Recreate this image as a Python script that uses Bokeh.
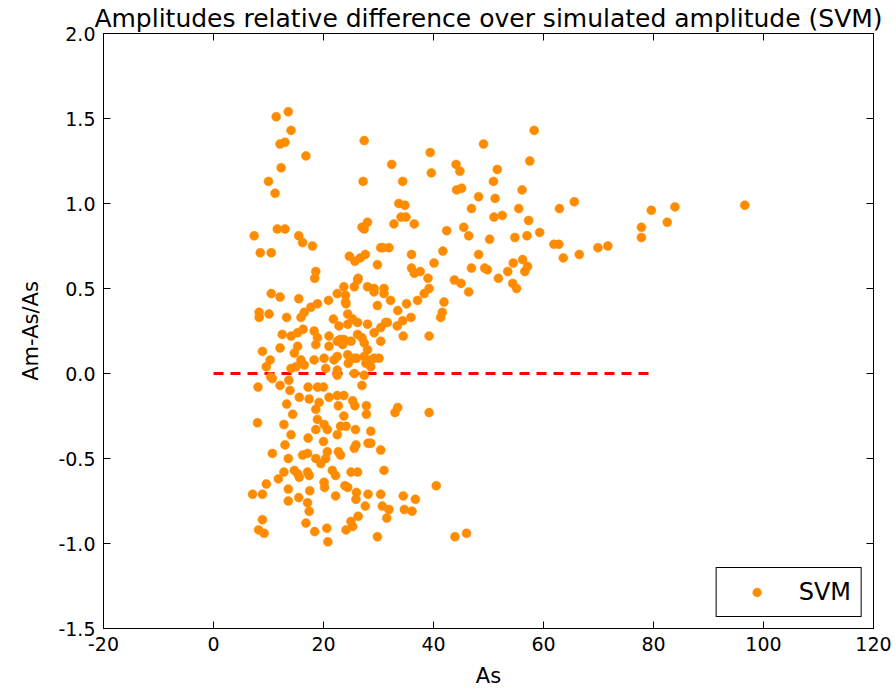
from bokeh.plotting import figure
from bokeh.models import FixedTicker, PrintfTickFormatter, CustomJSTickFormatter, LinearAxis, Range1d, Legend, LegendItem
from bokeh.embed import file_html
from bokeh.resources import INLINE

title_text = "Amplitudes relative difference over simulated amplitude (SVM)"
x_label = "As"
y_label = "Am-As/As"
series_name = "SVM"
x_ticks = [-20, 0, 20, 40, 60, 80, 100, 120]
y_ticks = [-1.5, -1.0, -0.5, 0.0, 0.5, 1.0, 1.5, 2.0]
ref_x = [0, 80]
ref_y = [0, 0]

pts = [
    (11.4, 1.51), (13.6, 1.54), (14.1, 1.43), (12.1, 1.35), (13.0, 1.36), (16.8, 1.28), (12.3, 1.21),
    (10.0, 1.13), (11.2, 1.06), (27.4, 1.37), (27.2, 1.13), (28.0, 0.89), (27.0, 0.86), (27.4, 0.85),
    (7.4, 0.81), (11.6, 0.85), (13.0, 0.85), (15.5, 0.81), (16.2, 0.77), (18.0, 0.75), (8.5, 0.71),
    (10.5, 0.71), (30.4, 0.74), (24.7, 0.69), (25.7, 0.66), (26.7, 0.68), (27.6, 0.70), (29.8, 0.64),
    (18.6, 0.60), (18.4, 0.56), (26.3, 0.56), (23.7, 0.51), (25.6, 0.51), (28.0, 0.51), (29.2, 0.50),
    (10.5, 0.47), (12.1, 0.45), (15.5, 0.44), (8.3, 0.36), (8.3, 0.33), (10.1, 0.35), (13.3, 0.33),
    (15.9, 0.33), (16.5, 0.36), (17.7, 0.39), (18.9, 0.41), (20.9, 0.43), (22.5, 0.47), (24.1, 0.41),
    (29.2, 0.48), (21.8, 0.32), (24.4, 0.35), (25.3, 0.32), (26.2, 0.30), (22.8, 0.28), (24.4, 0.29),
    (12.5, 0.23), (14.1, 0.22), (15.3, 0.24), (16.3, 0.26), (18.3, 0.25), (18.9, 0.21), (18.6, 0.17),
    (21.0, 0.22), (21.0, 0.16), (22.5, 0.19), (23.5, 0.17), (23.7, 0.20), (26.2, 0.23), (27.4, 0.18),
    (28.0, 0.14), (12.1, 0.15), (8.9, 0.13), (10.3, 0.08), (9.6, 0.04), (15.3, 0.16), (14.7, 0.12),
    (15.9, 0.08), (16.5, 0.05), (18.3, 0.08), (20.1, 0.09), (21.9, 0.08), (24.4, 0.11), (25.6, 0.09),
    (27.4, 0.10), (28.6, 0.08), (28.6, 0.04), (20.4, 0.03), (22.5, 0.02), (14.1, 0.03), (15.0, 0.04),
    (10.4, -0.02), (10.7, -0.03), (13.7, -0.04), (25.6, 0.00), (27.4, -0.01), (22.5, -0.01),
    (8.1, -0.08), (12.1, -0.07), (13.9, -0.10), (17.2, -0.08), (18.9, -0.08), (20.0, -0.08), (27.0, -0.07),
    (15.6, -0.14), (17.4, -0.15), (19.2, -0.17), (18.6, -0.21), (21.0, -0.14), (22.5, -0.13), (23.7, -0.13),
    (25.3, -0.16), (25.7, -0.19), (22.7, -0.19), (23.7, -0.25), (27.8, -0.19), (27.8, -0.24), (13.3, -0.18),
    (14.4, -0.24), (8.0, -0.29), (12.8, -0.30), (14.1, -0.36), (13.0, -0.42), (10.7, -0.47), (18.9, -0.27),
    (18.6, -0.33), (20.1, -0.30), (20.7, -0.33), (23.1, -0.31), (24.1, -0.31), (22.5, -0.36), (25.8, -0.33),
    (28.6, -0.34), (28.1, -0.41), (17.2, -0.38), (20.0, -0.40), (25.9, -0.42), (25.6, -0.44), (13.6, -0.50),
    (16.2, -0.48), (17.1, -0.47), (18.6, -0.50), (19.5, -0.53), (20.7, -0.46), (20.4, -0.50), (22.7, -0.46),
    (23.1, -0.48), (30.4, -0.45), (12.8, -0.58), (11.8, -0.62), (14.7, -0.57), (15.3, -0.59), (15.6, -0.61),
    (17.1, -0.58), (17.4, -0.60), (21.6, -0.57), (22.2, -0.60), (25.0, -0.58), (26.2, -0.58), (9.6, -0.65),
    (7.1, -0.71), (8.9, -0.71), (13.6, -0.68), (13.6, -0.75), (15.5, -0.73), (17.5, -0.69), (20.1, -0.64),
    (20.2, -0.67), (17.1, -0.76), (17.4, -0.81), (22.2, -0.72), (23.9, -0.66), (24.4, -0.67), (26.0, -0.70),
    (25.9, -0.74), (28.1, -0.71), (27.6, -0.78), (26.3, -0.84), (8.9, -0.86), (8.2, -0.92), (9.2, -0.94),
    (16.8, -0.88), (18.4, -0.93), (20.6, -0.91), (20.8, -0.99), (24.1, -0.92), (25.0, -0.87), (25.3, -0.90),
    (29.8, -0.96),
    (58.3, 1.43), (49.1, 1.35), (39.4, 1.30), (32.4, 1.23), (39.6, 1.18), (44.1, 1.23), (44.8, 1.19),
    (57.5, 1.25), (51.6, 1.20), (34.4, 1.13), (50.9, 1.13), (44.2, 1.08), (45.1, 1.09), (56.1, 1.08),
    (48.2, 1.04), (51.2, 1.03), (33.7, 1.00), (34.8, 0.99), (46.9, 0.97), (55.5, 0.97), (62.9, 0.97),
    (34.1, 0.92), (35.0, 0.92), (32.8, 0.88), (36.5, 0.88), (51.0, 0.92), (52.5, 0.93), (57.3, 0.90),
    (45.5, 0.86), (46.4, 0.81), (42.4, 0.84), (50.2, 0.79), (54.8, 0.80), (57.0, 0.81), (59.3, 0.83),
    (61.9, 0.76), (62.8, 0.76), (63.6, 0.68), (30.8, 0.74), (31.9, 0.74), (36.0, 0.70), (41.7, 0.72),
    (40.1, 0.65), (48.2, 0.70), (36.0, 0.62), (36.5, 0.59), (37.6, 0.60), (39.0, 0.56), (46.9, 0.62),
    (49.3, 0.62), (49.8, 0.61), (53.5, 0.60), (54.5, 0.65), (56.2, 0.67), (56.6, 0.60), (57.1, 0.63),
    (51.8, 0.56), (54.4, 0.53), (55.1, 0.50), (43.8, 0.55), (45.0, 0.53), (31.0, 0.50), (39.2, 0.50),
    (65.6, 1.01), (79.6, 0.96), (83.9, 0.98), (96.6, 0.99), (77.8, 0.86), (77.8, 0.80), (82.5, 0.89),
    (69.9, 0.74), (71.7, 0.75), (66.5, 0.70),
    (31.0, 0.47), (29.8, 0.40), (32.2, 0.43), (33.5, 0.37), (35.1, 0.41), (37.1, 0.43), (38.3, 0.47),
    (46.4, 0.48), (41.9, 0.42), (41.6, 0.36), (41.3, 0.33), (35.9, 0.33), (34.4, 0.31), (33.4, 0.28),
    (31.3, 0.30), (30.4, 0.27), (29.2, 0.24), (30.4, 0.19), (29.2, 0.09), (30.1, 0.09), (34.5, 0.22),
    (39.2, 0.22), (33.5, -0.20), (33.0, -0.23), (39.2, -0.23), (28.6, -0.41), (31.0, -0.57), (40.5, -0.66),
    (30.4, -0.71), (30.7, -0.78), (31.9, -0.80), (31.5, -0.85), (34.5, -0.72), (36.7, -0.74), (34.7, -0.80),
    (36.1, -0.81), (43.9, -0.96), (46.0, -0.94),
    (26.2, 0.55), (31.6, 0.30), (28.0, 0.29), (24.0, 0.46), (24.0, 0.42), (23.0, 0.20), (25.0, 0.19),
    (27.0, 0.21), (22.5, 0.10), (24.5, 0.06), (26.0, 0.09), (27.7, 0.06),
]
as_vals = [p[0] for p in pts]
rel_vals = [p[1] for p in pts]

FONT = "DejaVu Sans"

p = figure(width=896, height=690, output_backend="svg", toolbar_location=None,
           x_range=Range1d(-20, 120), y_range=Range1d(-1.5, 2.0),
           min_border_left=103, min_border_right=23, min_border_top=33, min_border_bottom=60)
p.background_fill_color = "white"
p.border_fill_color = "white"
p.grid.visible = False
p.outline_line_color = "black"
p.outline_line_width = 1

p.title.text = title_text
p.title.align = "center"
p.title.text_font = FONT
p.title.text_font_size = "25px"
p.title.text_font_style = "normal"
p.title.text_color = "black"
p.title.standoff = 2

def style_axis(ax, ticks, fmt, show_labels=True):
    ax.ticker = FixedTicker(ticks=ticks)
    if show_labels:
        ax.formatter = PrintfTickFormatter(format=fmt)
    else:
        ax.formatter = CustomJSTickFormatter(code="return ''")
    ax.major_tick_in = 7
    ax.major_tick_out = 0
    ax.minor_tick_line_color = None
    ax.axis_line_color = "black"
    ax.major_tick_line_color = "black"
    ax.major_label_text_font = FONT
    ax.major_label_text_color = "black"
    ax.major_label_text_font_size = "19px"
    ax.major_label_standoff = 8 if show_labels else 0
    ax.axis_label_text_font = FONT
    ax.axis_label_text_font_style = "normal"
    ax.axis_label_text_font_size = "21px"
    ax.axis_label_text_color = "black"

style_axis(p.xaxis[0], x_ticks, "%d")
style_axis(p.yaxis[0], y_ticks, "%.1f")
p.xaxis[0].axis_label = x_label
p.yaxis[0].axis_label = y_label
p.xaxis[0].axis_label_standoff = 10
p.yaxis[0].axis_label_standoff = 12

top_ax = LinearAxis()
style_axis(top_ax, x_ticks, "%d", show_labels=False)
p.add_layout(top_ax, "above")
right_ax = LinearAxis()
style_axis(right_ax, y_ticks, "%.1f", show_labels=False)
p.add_layout(right_ax, "right")

p.line(ref_x, ref_y, line_color="red", line_width=3, line_dash="10 7")
r = p.scatter(as_vals, rel_vals, size=9, fill_color="darkorange", line_color="darkorange",
              line_width=0.5)

legend = Legend(items=[LegendItem(label=series_name, renderers=[r])], location="bottom_right")
legend.label_text_font = FONT
legend.label_text_font_size = "24px"
legend.label_text_color = "black"
legend.border_line_color = "black"
legend.border_line_width = 1
legend.border_line_alpha = 1
legend.background_fill_alpha = 1
legend.glyph_width = 60
legend.glyph_height = 22
legend.label_standoff = 12
legend.padding = 10
legend.margin = 11
p.add_layout(legend, "center")

open("out.html", "w").write(file_html(p, INLINE))
